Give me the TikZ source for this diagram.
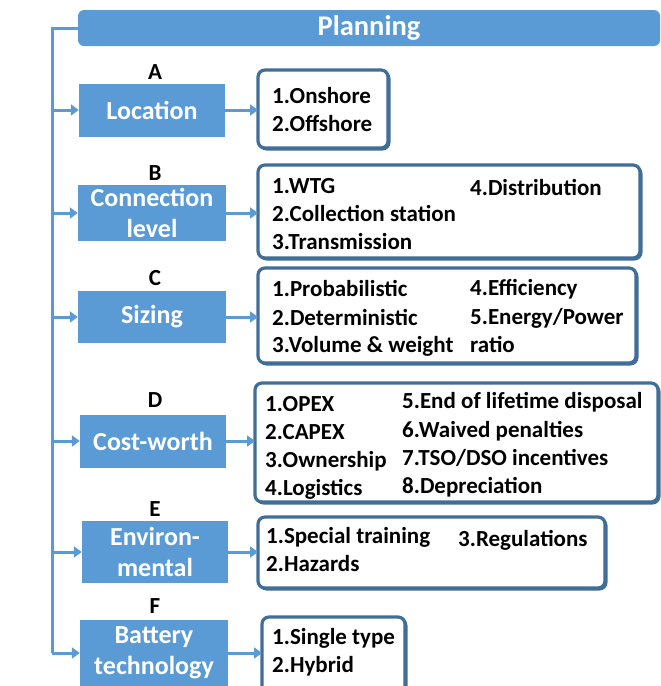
\documentclass[tikz,border=0pt]{standalone}
\usepackage{fontspec}
\setmainfont{Carlito}
\usetikzlibrary{arrows.meta}
\definecolor{bl}{RGB}{91,155,213}
\definecolor{bd}{RGB}{65,110,152}
\tikzset{
  catbox/.style={fill=bl, text=white, inner sep=0pt, align=center,
    font=\fontsize{26}{31}\selectfont\bfseries},
  letter/.style={font=\fontsize{23}{28}\selectfont\bfseries, inner sep=0pt},
  item/.style={font=\fontsize{23}{26}\selectfont\bfseries, anchor=base west, inner sep=0pt},
  arr/.style={draw=bl, line width=3pt, -{Triangle[length=8pt,width=11pt]}},
  trunk/.style={draw=bl, line width=3pt},
  lst/.style={draw=bd, line width=3.2pt, fill=white, rounded corners=7pt},
  shd/.style={fill=bd, rounded corners=8pt},
}
\newcommand{\lbox}[5]{%
  \path[shd] (#2+0.5,#3+0.5) rectangle (#4+2.5,#5+2.5);
  \path[lst] (#2,#3) rectangle (#4,#5);
  \coordinate (#1w) at (#2,{(#3+#5)/2});
}
\begin{document}
\begin{tikzpicture}[x=1pt,y=-1pt]
\useasboundingbox (0,0) rectangle (661,686);
% planning bar
\node[fill=bl, text=white, rounded corners=6pt, minimum width=582pt, minimum height=36pt,
  inner sep=0pt, font=\fontsize{28.5}{32}\selectfont\bfseries] (plan) at (369,28) {Planning};
\coordinate (top) at (52,28);
% category boxes
\node[catbox, minimum width=146pt, minimum height=53pt] (A) at (152,110) {Location};
\node[catbox, minimum width=148pt, minimum height=56pt] (B) at (152,213) {Connection\\level};
\node[catbox, minimum width=148pt, minimum height=52pt] (C) at (152,317) {Sizing};
\node[catbox, minimum width=146pt, minimum height=53pt] (D) at (153,441) {Cost-worth};
\node[catbox, minimum width=146pt, minimum height=62pt] (E) at (155,552) {Environ-\\mental};
\node[catbox, minimum width=148pt, minimum height=66pt] (F) at (154,653) {Battery\\technology};
\coordinate (bot) at (top |- F.west);
% letters
\node[letter] (la) at (155,72) {A};
\node[letter] (lb) at (155,173) {B};
\node[letter] (lc) at (155,278) {C};
\node[letter] (ld) at (155,400) {D};
\node[letter] (le) at (155,509) {E};
\node[letter] (lf) at (155,606) {F};
% trunk
\draw[trunk] (plan.west) -- (top) -- (bot);
\foreach \n in {A,B,C,D,E} \draw[arr] (top |- \n.west) -- (\n.west);
\draw[arr] (bot) -- (F.west);
% list boxes
\lbox{LA}{258}{70}{388}{148}
\lbox{LB}{258}{165}{640}{258}
\lbox{LC}{258}{268}{636}{363}
\lbox{LD}{255}{383}{658}{502}
\lbox{LE}{258}{517}{605}{588}
\lbox{LF}{262}{617}{405}{700}
\foreach \n in {A,B,C,D,E,F} \draw[arr] (\n.east) -- (\n.east -| L\n w);
% items
\node[item] (a1) at (272,103) {1.Onshore};
\node[item] (a2) at (272,131) {2.Offshore};
\node[item] (b1) at (272,193) {1.WTG};
\node[item] (b2) at (272,221) {2.Collection station};
\node[item] (b3) at (272,249) {3.Transmission};
\node[item] (b4) at (470,195) {4.Distribution};
\node[item] (c1) at (272,296) {1.Probabilistic};
\node[item] (c2) at (272,325) {2.Deterministic};
\node[item] (c3) at (272,352) {3.Volume \& weight};
\node[item] (c4) at (470,295) {4.Efficiency};
\node[item] (c5) at (470,324) {5.Energy/Power};
\node[item] (c6) at (470,352) {ratio};
\node[item] (d1) at (265,411) {1.OPEX};
\node[item] (d2) at (265,439) {2.CAPEX};
\node[item] (d3) at (265,467) {3.Ownership};
\node[item] (d4) at (265,495) {4.Logistics};
\node[item] (d5) at (402,408) {5.End of lifetime disposal};
\node[item] (d6) at (402,437) {6.Waived penalties};
\node[item] (d7) at (402,465) {7.TSO/DSO incentives};
\node[item] (d8) at (402,493) {8.Depreciation};
\node[item] (e1) at (266,543) {1.Special training};
\node[item] (e2) at (266,571) {2.Hazards};
\node[item] (e3) at (458,546) {3.Regulations};
\node[item] (f1) at (272,644) {1.Single type};
\node[item] (f2) at (272,672) {2.Hybrid};
\end{tikzpicture}
\end{document}
